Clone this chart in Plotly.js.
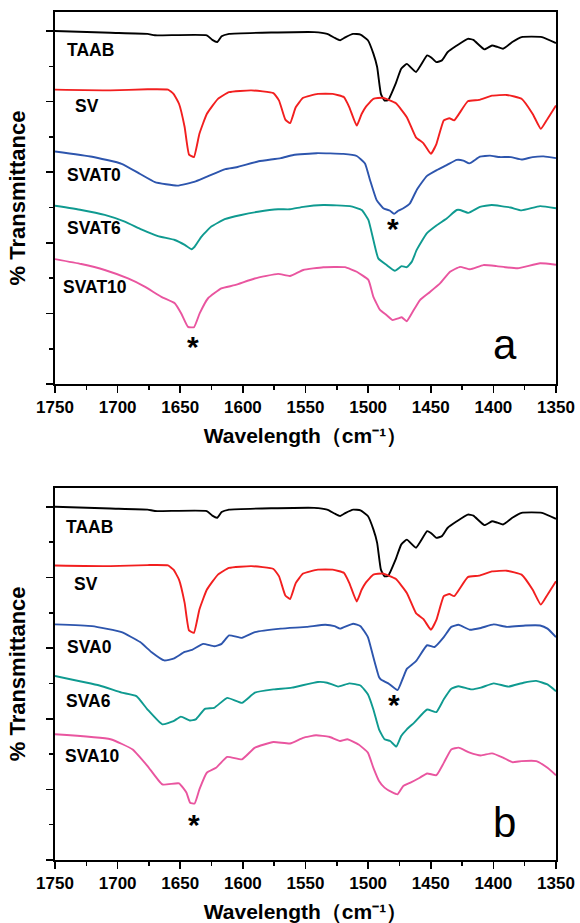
<!DOCTYPE html>
<html>
<head>
<meta charset="utf-8">
<script src="https://cdn.plot.ly/plotly-3.0.1.min.js"></script>
<style>html,body{margin:0;padding:0;background:#fff;}#chart{width:580px;height:923px;}</style>
</head>
<body>
<div id="chart"></div>
<script>
// ---- data (wavenumber, cm-1 ; transmittance, offset units) ----
const taabX = [1750,1705.7,1676.1,1670.2,1628.8,1624.4,1620.5,1617.0,1611.0,1543.1,1532.7,1526.8,1522.4,1517.9,1512.0,1506.1,1500.2,1495.8,1492.8,1489.8,1486.9,1483.9,1478.0,1473.6,1469.1,1461.8,1452.9,1449.9,1445.5,1441.1,1436.6,1429.2,1420.4,1416.0,1407.1,1401.1,1396.7,1392.3,1384.9,1377.5,1361.2,1350];
const taabY = [10.00,9.95,9.92,9.88,9.88,9.75,9.69,9.85,9.92,9.97,9.92,9.81,9.74,9.83,9.92,9.90,9.74,9.36,8.98,8.22,8.03,8.05,8.51,8.93,9.07,8.84,9.31,9.26,9.12,9.17,9.40,9.59,9.78,9.75,9.48,9.59,9.55,9.50,9.69,9.83,9.83,9.66];

const svX = [1750,1705.7,1676.1,1659.8,1655.4,1651.0,1646.5,1643.0,1639.1,1634.7,1628.8,1619.9,1611.0,1593.3,1575.6,1571.1,1566.1,1562.3,1557.8,1551.9,1540.1,1528.3,1519.4,1515.0,1509.1,1505.2,1501.7,1495.8,1488.4,1478.0,1469.1,1461.8,1455.8,1449.9,1445.5,1439.6,1435.1,1431.3,1420.4,1411.5,1401.1,1389.3,1377.5,1368.6,1362.1,1356.8,1350];
const svY = [8.34,8.32,8.35,8.34,8.22,7.94,7.28,6.50,6.43,7.09,7.65,8.08,8.27,8.32,8.24,8.03,7.49,7.39,7.84,8.11,8.22,8.22,8.13,7.84,7.32,7.65,7.86,8.08,8.11,7.96,7.56,6.99,6.82,6.52,6.80,7.47,7.53,7.47,8.01,8.05,8.17,8.19,8.08,7.65,7.23,7.51,7.89];

// panel a
const svat0X = [1750,1720.4,1696.8,1682.0,1670.2,1652.4,1637.7,1614.0,1605.1,1587.4,1569.7,1559.7,1541.1,1519.8,1509.1,1502.5,1498.5,1493.2,1487.9,1482.5,1479.3,1475.9,1471.9,1466.6,1461.2,1453.2,1445.2,1437.3,1429.3,1424.0,1419.2,1410.7,1402.7,1395,1386,1377.5,1368.6,1359.8,1350];
const svat0Y = [6.59,6.44,6.24,5.95,5.72,5.62,5.74,6.09,6.14,6.31,6.40,6.49,6.54,6.52,6.46,6.25,5.78,5.21,4.98,4.91,4.82,4.91,4.98,5.12,5.50,5.89,6.06,6.20,6.35,6.33,6.25,6.44,6.47,6.43,6.43,6.36,6.43,6.45,6.40];

const svat6X = [1750,1729.0,1710.3,1694.3,1681.1,1667.8,1654.4,1646.4,1641.2,1638.5,1633.2,1625.2,1614.5,1601.3,1587.9,1571.9,1562.4,1551.8,1535.8,1514.5,1505.1,1499.8,1495.8,1491.9,1485.2,1478.6,1473.2,1469.2,1465.2,1461.2,1453.2,1445.2,1437.3,1429.3,1426.6,1420.0,1410.7,1401.3,1386.4,1377.5,1362.7,1350];
const svat6Y = [5.05,4.93,4.79,4.60,4.38,4.19,4.08,3.94,3.82,3.89,4.17,4.46,4.67,4.79,4.88,4.95,4.95,5.02,5.07,5.04,4.93,4.65,4.08,3.56,3.37,3.21,3.34,3.31,3.46,3.80,4.27,4.50,4.69,4.93,4.93,4.85,5.02,5.07,5.00,4.92,5.04,4.98];

const svat10X = [1750,1729.0,1710.3,1691.7,1678.4,1665.1,1654.4,1649.2,1643.8,1639.0,1634.5,1627.8,1617.2,1606.5,1590.6,1571.9,1562.4,1551.8,1535.8,1518.5,1509.1,1499.8,1495.8,1490.5,1485.2,1480.4,1475.9,1473.2,1469.2,1465.2,1458.6,1450.6,1442.6,1434.6,1426.6,1418.6,1408.0,1397.4,1390.7,1380.5,1362.7,1350];
const svat10Y = [3.54,3.40,3.23,2.99,2.76,2.47,2.29,2.00,1.62,1.61,2.00,2.43,2.71,2.80,2.99,3.12,3.06,3.23,3.31,3.31,3.18,2.95,2.47,2.10,1.95,1.81,1.86,1.89,1.78,2.00,2.38,2.61,2.85,3.18,3.32,3.25,3.37,3.34,3.31,3.28,3.42,3.38];

// panel b
const sva0X = [1750,1720.4,1696.8,1682.0,1673.1,1662.8,1655.4,1646.5,1640.6,1631.7,1622.9,1617.0,1611.0,1600.7,1590.4,1569.7,1549.0,1534.2,1526.8,1522.4,1512.0,1506.1,1500.2,1495.8,1491.3,1489.8,1483.9,1476.5,1472.1,1469.1,1461.8,1452.9,1446.9,1439.6,1433.6,1427.8,1418.9,1410.0,1399.7,1389.3,1374.5,1362.7,1356.8,1350];
const sva0Y = [6.67,6.62,6.45,6.17,5.89,5.65,5.70,5.89,5.95,6.12,6.05,6.12,6.36,6.29,6.45,6.55,6.60,6.66,6.62,6.55,6.69,6.62,6.31,5.74,5.18,5.11,5.00,4.81,5.16,5.41,5.63,6.08,6.03,6.31,6.60,6.66,6.52,6.57,6.67,6.60,6.64,6.64,6.55,6.31];

const sva6X = [1750,1714.5,1696.8,1685.0,1676.1,1664.3,1655.4,1649.5,1642.1,1637.7,1630.3,1622.9,1612.5,1600.7,1590.4,1575.6,1560.8,1540.1,1532.7,1523.9,1515.0,1506.1,1500.2,1495.8,1491.3,1486.9,1482.4,1477.5,1473.6,1469.1,1463.2,1452.9,1445.5,1439.6,1433.6,1427.8,1417.4,1410.0,1399.7,1387.8,1376.0,1365.7,1356.8,1350];
const sva6Y = [5.21,4.94,4.74,4.64,4.26,3.84,3.93,4.06,3.95,3.98,4.28,4.31,4.59,4.45,4.74,4.83,4.88,5.04,5.02,4.91,5.00,4.94,4.69,4.26,3.70,3.42,3.37,3.21,3.51,3.70,3.89,4.26,4.19,4.55,4.85,4.92,4.83,4.88,5.00,4.91,5.02,5.07,4.97,4.78];

const sva10X = [1750,1705.7,1688.0,1676.1,1664.3,1651.0,1645.1,1642.1,1638.5,1634.7,1628.8,1621.4,1612.5,1600.7,1590.4,1575.6,1562.3,1551.9,1541.6,1531.2,1522.4,1516.5,1507.6,1500.2,1495.8,1491.3,1486.9,1481.0,1476.5,1472.1,1466.2,1458.8,1452.9,1445.5,1439.6,1433.6,1427.8,1418.9,1410.0,1401.1,1392.3,1384.9,1377.5,1365.7,1356.8,1350];
const sva10Y = [3.56,3.42,3.13,2.66,2.14,2.17,1.91,1.62,1.60,2.00,2.47,2.61,2.92,2.85,3.18,3.34,3.30,3.46,3.53,3.49,3.37,3.42,3.27,3.04,2.61,2.24,2.05,1.92,1.86,2.09,2.19,2.33,2.45,2.40,2.75,3.13,3.18,3.04,2.96,3.02,2.90,2.77,2.80,2.80,2.61,2.40];

const panelANames = ['TAAB','SV','SVAT0','SVAT6','SVAT10'];
const panelBNames = ['TAAB','SV','SVA0','SVA6','SVA10'];
const panelLetters = ['a','b'];
const xTickVals = [1750,1700,1650,1600,1550,1500,1450,1400,1350];
const xTitle = 'Wavelength\uFF08cm\u207B\u00B9\uFF09';
const yTitle = '% Transmittance';

// ---- styles ----
const colors = ['#000000','#f21f1f','#2d55ad','#0f9a90','#e9559f'];
const lw = 1.9;

function tr(x, y, color, ax) {
  return {x: x, y: y, type: 'scatter', mode: 'lines', xaxis: ax[0], yaxis: ax[1],
    line: {color: color, width: lw, shape: 'spline', smoothing: 0.4}, showlegend: false, hoverinfo: 'skip'};
}
const A = ['x','y'], B = ['x2','y2'];
const data = [
  tr(taabX, taabY, colors[0], A), tr(svX, svY, colors[1], A),
  tr(svat0X, svat0Y, colors[2], A), tr(svat6X, svat6Y, colors[3], A), tr(svat10X, svat10Y, colors[4], A),
  tr(taabX, taabY, colors[0], B), tr(svX, svY, colors[1], B),
  tr(sva0X, sva0Y, colors[2], B), tr(sva6X, sva6Y, colors[3], B), tr(sva10X, sva10Y, colors[4], B)
];

const FONT = 'Liberation Sans, Arial, sans-serif';
function xax(anchor) {
  return {anchor: anchor, range: [1750, 1350], autorange: false, tickmode: 'array', tickvals: xTickVals,
    ticks: 'outside', ticklen: 7, tickwidth: 1.6, tickcolor: '#000',
    minor: {dtick: 25, ticklen: 4, tickwidth: 1.6, tickcolor: '#000', ticks: 'outside'},
    showline: true, linecolor: '#000', linewidth: 2, mirror: true, showgrid: false, zeroline: false,
    tickfont: {family: FONT, size: 17, color: '#000', weight: 'bold'},
    title: {text: xTitle, font: {family: FONT, size: 21, color: '#000', weight: 'bold'}, standoff: 12}};
}
function yax(anchor, domain) {
  return {anchor: anchor, domain: domain, range: [0, 10.54], autorange: false, dtick: 2, tick0: 0,
    ticks: 'outside', ticklen: 7, tickwidth: 1.6, tickcolor: '#000',
    minor: {dtick: 1, ticklen: 4, tickwidth: 1.6, tickcolor: '#000', ticks: 'outside'},
    showticklabels: false, showline: true, linecolor: '#000', linewidth: 2, mirror: true,
    showgrid: false, zeroline: false,
    title: {text: yTitle, font: {family: FONT, size: 22, color: '#000', weight: 'bold'}, standoff: 14}};
}

const labA = [[1742.3,9.46],[1735.6,7.88],[1742.3,5.92],[1742.3,4.41],[1745.4,2.76]];
const labB = [[1742.6,9.43],[1736.7,7.81],[1741.7,6.03],[1742.6,4.50],[1743.5,2.94]];
const starA = [[1639.8,1.05],[1480.4,4.40]];
const starB = [[1639.1,1.00],[1479.5,4.40]];
const letterPos = [[1390.8,1.13],[1390.8,1.06]];

const ann = [];
function addLabels(names, pos, xr, yr) {
  names.forEach((n, i) => ann.push({text: n, x: pos[i][0], y: pos[i][1], xref: xr, yref: yr,
    xanchor: 'left', yanchor: 'middle', showarrow: false,
    font: {family: FONT, size: 17.5, color: '#000', weight: 'bold'}}));
}
addLabels(panelANames, labA, 'x', 'y');
addLabels(panelBNames, labB, 'x2', 'y2');
function addStars(pos, xr, yr) {
  pos.forEach(p => ann.push({text: '*', x: p[0], y: p[1], xref: xr, yref: yr, xanchor: 'center', yanchor: 'middle',
    showarrow: false, font: {family: FONT, size: 30, color: '#000', weight: 'bold'}}));
}
addStars(starA, 'x', 'y');
addStars(starB, 'x2', 'y2');
ann.push({text: panelLetters[0], x: letterPos[0][0], y: letterPos[0][1], xref: 'x', yref: 'y', xanchor: 'center', yanchor: 'middle',
  showarrow: false, font: {family: FONT, size: 42, color: '#000'}});
ann.push({text: panelLetters[1], x: letterPos[1][0], y: letterPos[1][1], xref: 'x2', yref: 'y2', xanchor: 'center', yanchor: 'middle',
  showarrow: false, font: {family: FONT, size: 42, color: '#000'}});

const layout = {
  width: 580, height: 923,
  margin: {l: 55, r: 24, t: 12, b: 63, pad: 0},
  paper_bgcolor: '#fff', plot_bgcolor: '#fff',
  xaxis: xax('y'), yaxis: yax('x', [0.5613, 1]),
  xaxis2: xax('y2'), yaxis2: yax('x2', [0, 0.4390]),
  annotations: ann, showlegend: false
};
Plotly.newPlot('chart', data, layout, {staticPlot: true, displayModeBar: false});
</script>
</body>
</html>
